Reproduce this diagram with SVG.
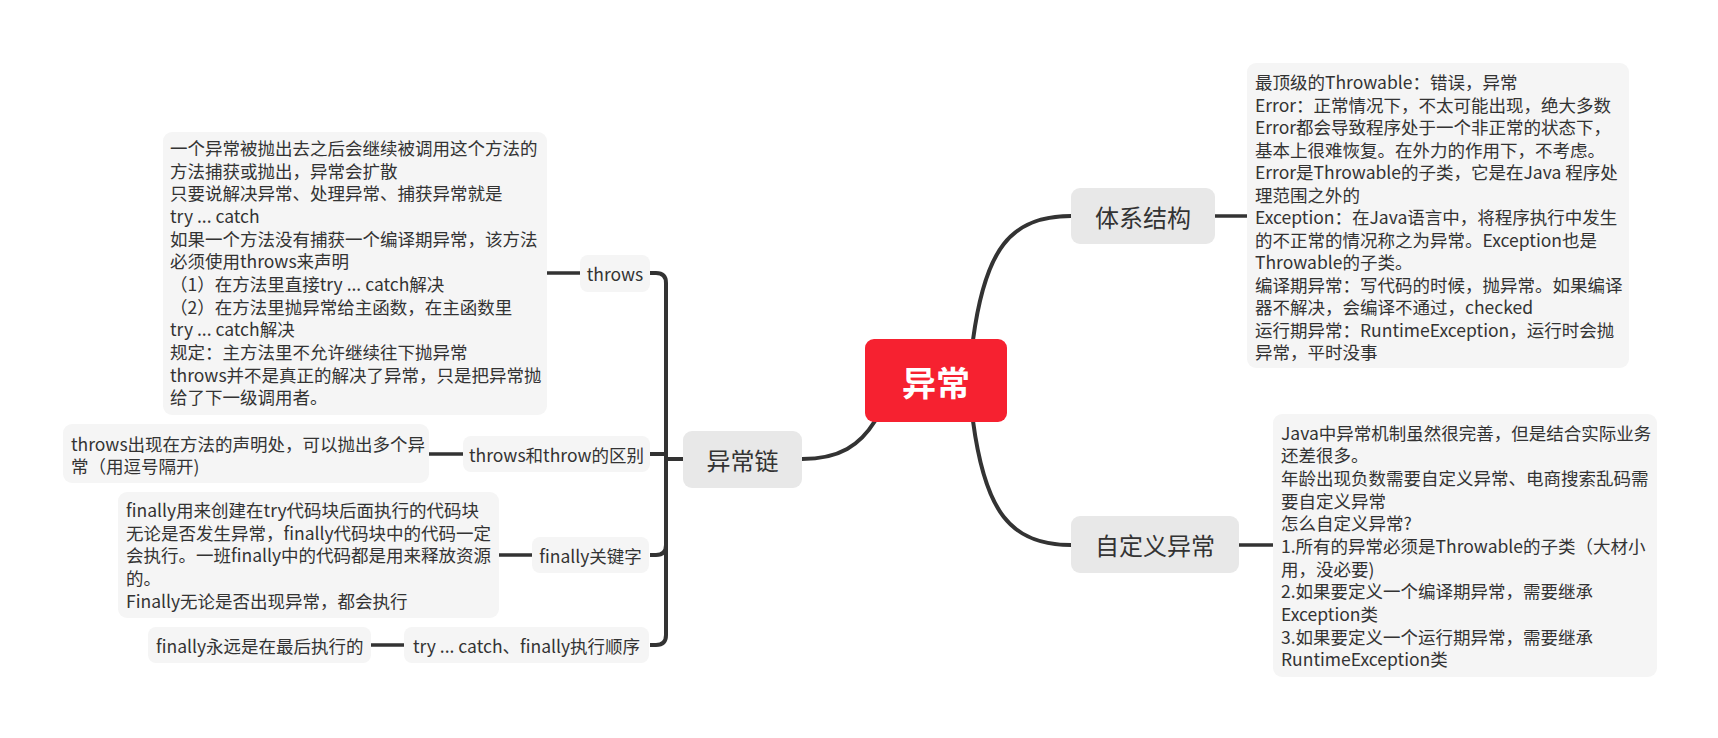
<svg xmlns="http://www.w3.org/2000/svg" width="1718" height="738" viewBox="0 0 1718 738">
<style>
text{font-family:"Noto Sans CJK SC","Noto Sans",sans-serif;fill:#333;dominant-baseline:central}
.d{font-size:17.5px}
.s{font-size:17.5px;text-anchor:middle}
.m{font-size:24px;text-anchor:middle}
.c{font-size:34px;font-weight:bold;fill:#fff;text-anchor:middle}
.boxd{fill:#F5F5F5}
.boxm{fill:#E8E8E8}
.ln{fill:none;stroke:#333;stroke-width:4;stroke-linecap:butt}
.lt{fill:none;stroke:#333;stroke-width:3.5}
</style>
<rect width="1718" height="738" fill="#fff"/>
<g id="connectors">
<path class="ln" d="M973,340 C985,250 1010,216 1071,216"/>
<path class="ln" d="M973,421 C985,511 1010,545 1071,545"/>
<path class="ln" d="M875,421 C860,445 840,459 802,459"/>
<path class="ln" d="M683,459 H666 V283 Q666,273 656,273 H650"/>
<path class="ln" d="M666,459 V454 H650"/>
<path class="ln" d="M666,459 V545 Q666,555 656,555 H650"/>
<path class="ln" d="M666,459 V635 Q666,645 656,645 H650"/>
<path class="lt" d="M1215,216 H1247"/>
<path class="lt" d="M1239,545 H1273"/>
<path class="lt" d="M547,273 H580"/>
<path class="lt" d="M429,454 H463"/>
<path class="lt" d="M499,555 H532"/>
<path class="lt" d="M371,645 H404"/>
</g>
<g id="root">
<rect x="865" y="339" width="142" height="83" rx="9" fill="#F62130"/>
<text class="c" x="936" y="381">异常</text>
</g>
<g id="tixi">
<rect class="boxm" x="1071" y="188" width="144" height="56" rx="9"/>
<text class="m" x="1143" y="216">体系结构</text>
</g>
<g id="tixi-detail">
<rect class="boxd" x="1247" y="63" width="382" height="305" rx="9"/>
<text class="d" x="1255" y="81.5">最顶级的Throwable：错误，异常</text>
<text class="d" x="1255" y="104">Error：正常情况下，不太可能出现，绝大多数</text>
<text class="d" x="1255" y="126.5">Error都会导致程序处于一个非正常的状态下，</text>
<text class="d" x="1255" y="149">基本上很难恢复。在外力的作用下，不考虑。</text>
<text class="d" x="1255" y="171.5">Error是Throwable的子类，它是在Java 程序处</text>
<text class="d" x="1255" y="194">理范围之外的</text>
<text class="d" x="1255" y="216.5">Exception：在Java语言中，将程序执行中发生</text>
<text class="d" x="1255" y="239">的不正常的情况称之为异常。Exception也是</text>
<text class="d" x="1255" y="261.5">Throwable的子类。</text>
<text class="d" x="1255" y="284">编译期异常：写代码的时候，抛异常。如果编译</text>
<text class="d" x="1255" y="306.5">器不解决，会编译不通过，checked</text>
<text class="d" x="1255" y="329">运行期异常：RuntimeException，运行时会抛</text>
<text class="d" x="1255" y="351.5">异常，平时没事</text>
</g>
<g id="zidingyi">
<rect class="boxm" x="1071" y="516" width="168" height="57" rx="9"/>
<text class="m" x="1155" y="544.5">自定义异常</text>
</g>
<g id="zidingyi-detail">
<rect class="boxd" x="1273" y="414" width="384" height="263" rx="9"/>
<text class="d" x="1281" y="432">Java中异常机制虽然很完善，但是结合实际业务</text>
<text class="d" x="1281" y="454.6">还差很多。</text>
<text class="d" x="1281" y="477.3">年龄出现负数需要自定义异常、电商搜索乱码需</text>
<text class="d" x="1281" y="500">要自定义异常</text>
<text class="d" x="1281" y="522.6">怎么自定义异常?</text>
<text class="d" x="1281" y="545.3">1.所有的异常必须是Throwable的子类（大材小</text>
<text class="d" x="1281" y="568">用，没必要)</text>
<text class="d" x="1281" y="590.6">2.如果要定义一个编译期异常，需要继承</text>
<text class="d" x="1281" y="613.3">Exception类</text>
<text class="d" x="1281" y="636">3.如果要定义一个运行期异常，需要继承</text>
<text class="d" x="1281" y="658.6">RuntimeException类</text>
</g>
<g id="yichanglian">
<rect class="boxm" x="683" y="431" width="119" height="57" rx="9"/>
<text class="m" x="742.5" y="459.5">异常链</text>
</g>
<g id="throws">
<rect class="boxd" x="580" y="255" width="70" height="37" rx="8"/>
<text class="s" x="615" y="273.5">throws</text>
</g>
<g id="throws-detail">
<rect class="boxd" x="163" y="132" width="384" height="283" rx="9"/>
<text class="d" x="170" y="147.5">一个异常被抛出去之后会继续被调用这个方法的</text>
<text class="d" x="170" y="170.1">方法捕获或抛出，异常会扩散</text>
<text class="d" x="170" y="192.8">只要说解决异常、处理异常、捕获异常就是</text>
<text class="d" x="170" y="215.4">try ... catch</text>
<text class="d" x="170" y="238.1">如果一个方法没有捕获一个编译期异常，该方法</text>
<text class="d" x="170" y="260.7">必须使用throws来声明</text>
<text class="d" x="170" y="283.4">（1）在方法里直接try ... catch解决</text>
<text class="d" x="170" y="306">（2）在方法里抛异常给主函数，在主函数里</text>
<text class="d" x="170" y="328.7">try ... catch解决</text>
<text class="d" x="170" y="351.3">规定：主方法里不允许继续往下抛异常</text>
<text class="d" x="170" y="374">throws并不是真正的解决了异常，只是把异常抛</text>
<text class="d" x="170" y="396.6">给了下一级调用者。</text>
</g>
<g id="diff">
<rect class="boxd" x="463" y="436" width="187" height="36" rx="8"/>
<text class="s" x="556.5" y="454">throws和throw的区别</text>
</g>
<g id="diff-detail">
<rect class="boxd" x="63" y="424" width="366" height="59" rx="9"/>
<text class="d" x="71" y="443">throws出现在方法的声明处，可以抛出多个异</text>
<text class="d" x="71" y="465.6">常（用逗号隔开)</text>
</g>
<g id="finally">
<rect class="boxd" x="532" y="537" width="117" height="36" rx="8"/>
<text class="s" x="590.5" y="555">finally关键字</text>
</g>
<g id="finally-detail">
<rect class="boxd" x="118" y="492" width="381" height="126" rx="9"/>
<text class="d" x="126" y="509.5">finally用来创建在try代码块后面执行的代码块</text>
<text class="d" x="126" y="532.2">无论是否发生异常，finally代码块中的代码一定</text>
<text class="d" x="126" y="554.9">会执行。一班finally中的代码都是用来释放资源</text>
<text class="d" x="126" y="577.6">的。</text>
<text class="d" x="126" y="600.3">Finally无论是否出现异常，都会执行</text>
</g>
<g id="order">
<rect class="boxd" x="404" y="627" width="245" height="36" rx="8"/>
<text class="s" x="526.5" y="645">try ... catch、finally执行顺序</text>
</g>
<g id="order-detail">
<rect class="boxd" x="148" y="627" width="223" height="36" rx="8"/>
<text class="d" x="156" y="645">finally永远是在最后执行的</text>
</g>
</svg>
